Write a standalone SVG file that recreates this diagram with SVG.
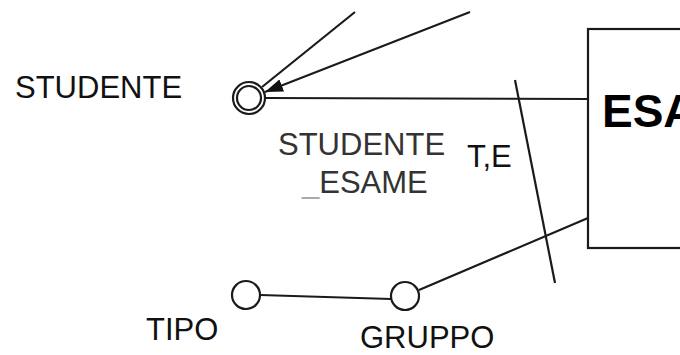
<svg xmlns="http://www.w3.org/2000/svg" width="680" height="355" viewBox="0 0 680 355">
<style>
.ln{stroke:#1a1a1a;stroke-width:2.2;fill:none}
.nd{stroke:#1a1a1a;stroke-width:2.2;fill:#fff}
.lb{font-family:"Liberation Sans",Arial,sans-serif;font-size:31px;fill:#111}
.lb2{font-family:"Liberation Sans",Arial,sans-serif;font-size:31px;fill:#333}
</style>
<defs>
<marker id="ahb" viewBox="0 0 18 13" refX="18" refY="6.5" markerWidth="18" markerHeight="13" markerUnits="userSpaceOnUse" orient="auto">
<path d="M0,0 L18,6.5 L0,13 z" fill="#111"/>
</marker>
</defs>
<rect width="680" height="355" fill="#fff"/>
<g id="connectors">
<line class="ln" x1="355" y1="12" x2="262" y2="87"/>
<line class="ln" x1="470" y1="12" x2="265" y2="92" marker-end="url(#ahb)"/>
<line class="ln" x1="266" y1="98" x2="588" y2="99"/>
<line class="ln" x1="260" y1="295" x2="391" y2="299"/>
<line class="ln" x1="419" y1="290" x2="588" y2="218"/>
<line class="ln" x1="515" y1="80" x2="555" y2="283"/>
</g>
<g id="esame">
<rect class="nd" x="588" y="29" width="120" height="219"/>
<text x="602" y="127" font-family="Liberation Sans,Arial,sans-serif" font-size="46" font-weight="bold" fill="#000">ESAME</text>
</g>
<g id="studente">
<circle class="nd" cx="249" cy="98" r="16"/>
<circle class="nd" cx="249" cy="98" r="12"/>
<text class="lb" x="15" y="98">STUDENTE</text>
</g>
<g id="tipo">
<circle class="nd" cx="246" cy="295" r="14"/>
<text class="lb" x="146" y="340">TIPO</text>
</g>
<g id="gruppo">
<circle class="nd" cx="405" cy="296" r="14"/>
<text class="lb" x="360" y="348">GRUPPO</text>
</g>
<g id="labels">
<text class="lb2" x="278" y="155">STUDENTE</text>
<text class="lb2" x="302" y="193"><tspan fill="#aaa">_</tspan>ESAME</text>
<text class="lb" x="467" y="167">T,E</text>
</g>
</svg>
